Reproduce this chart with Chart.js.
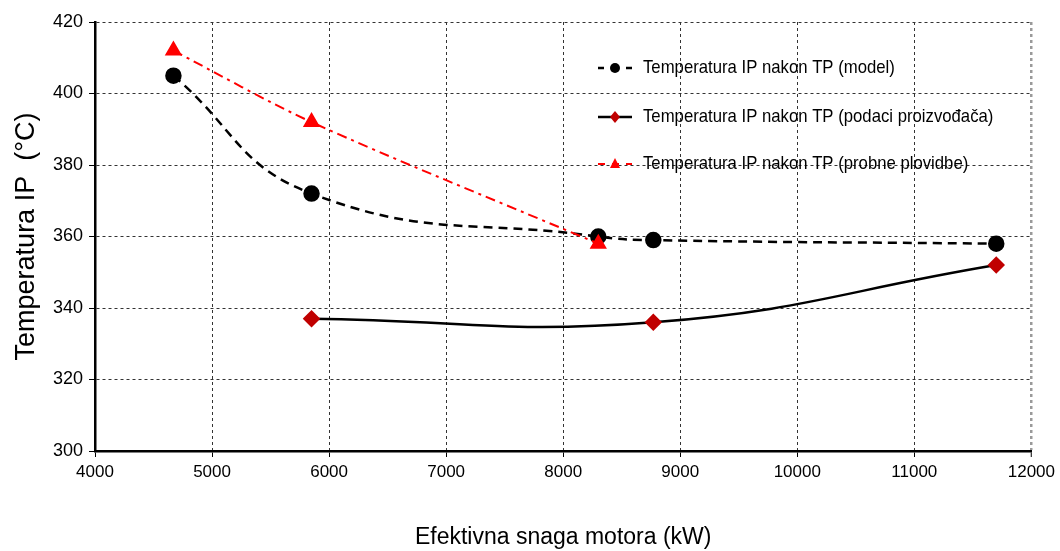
<!DOCTYPE html>
<html>
<head>
<meta charset="utf-8">
<script src="https://cdn.jsdelivr.net/npm/chart.js@4.4.1/dist/chart.umd.min.js"></script>
<style>
  html, body { margin: 0; padding: 0; background: #fff; }
  #wrap { width: 1060px; height: 551px; position: relative; }
</style>
</head>
<body>
<div id="wrap"><canvas id="chart"></canvas></div>
<script>
// snaga motora (kW) i temperature (°C)
var modelPower = [4670, 5850, 8300, 8770, 11700];
var modelTemp = [405, 372, 360, 359, 358];
var makerPower = [5850, 8770, 11700];
var makerTemp = [337, 336, 352];
var trialPower = [4670, 5850, 8300];
var trialTemp = [412, 392, 358];
var seriesNames = [
    'Temperatura IP nakon TP (model)',
    'Temperatura IP nakon TP (podaci proizvođača)',
    'Temperatura IP nakon TP (probne plovidbe)'
];
var xTitle = 'Efektivna snaga motora (kW)';
var yTitle = 'Temperatura IP  (°C)';

var FONT = "'Liberation Sans Narrow', 'Arial Narrow', 'Liberation Sans', Arial, sans-serif";

function toPoints(xs, ys) {
    var pts = [];
    for (var i = 0; i < xs.length; i++) pts.push({ x: xs[i], y: ys[i] });
    return pts;
}

// legenda unutar grafa, desno gore
var insideLegend = {
    id: 'insideLegend',
    afterDraw: function(chart) {
        var ctx = chart.ctx;
        var rows = [68, 117, 164];
        var x0 = 598, x1 = 632, mx = 615, tx = 643;
        ctx.save();
        for (var i = 0; i < chart.data.datasets.length; i++) {
            var ds = chart.data.datasets[i];
            var y = rows[i];
            ctx.strokeStyle = ds.borderColor;
            ctx.lineWidth = ds.borderWidth;
            ctx.setLineDash(ds.legendDash || []);
            ctx.beginPath();
            ctx.moveTo(x0, y);
            ctx.lineTo(x1, y);
            ctx.stroke();
            ctx.setLineDash([]);
            ctx.fillStyle = ds.pointBackgroundColor;
            ctx.beginPath();
            if (ds.pointStyle === 'circle') {
                ctx.arc(mx, y, 5, 0, Math.PI * 2);
            } else if (ds.pointStyle === 'rectRot') {
                ctx.moveTo(mx, y - 6); ctx.lineTo(mx + 5, y); ctx.lineTo(mx, y + 6); ctx.lineTo(mx - 5, y);
                ctx.closePath();
            } else {
                ctx.moveTo(mx, y - 6); ctx.lineTo(mx + 5, y + 4); ctx.lineTo(mx - 5, y + 4);
                ctx.closePath();
            }
            ctx.fill();
            // uski font: tekst malo stisnut vodoravno
            ctx.save();
            ctx.translate(tx, y);
            ctx.scale(0.88, 1);
            ctx.fillStyle = '#000';
            ctx.font = '19px ' + FONT;
            ctx.textBaseline = 'middle';
            ctx.textAlign = 'left';
            ctx.fillText(ds.label, 0, 0);
            ctx.restore();
        }
        ctx.restore();
    }
};

var ctx = document.getElementById('chart');
var chart = new Chart(ctx, {
    type: 'line',
    data: {
        datasets: [{
            label: seriesNames[0],
            data: toPoints(modelPower, modelTemp),
            borderColor: '#000',
            borderWidth: 2.5,
            borderDash: [9, 6],
            legendDash: [6, 8],
            tension: 0.45,
            pointStyle: 'circle',
            pointRadius: 7,
            pointBackgroundColor: '#000',
            pointBorderColor: '#000',
            order: 2
        }, {
            label: seriesNames[1],
            data: toPoints(makerPower, makerTemp),
            borderColor: '#000',
            borderWidth: 2.5,
            tension: 0.45,
            pointStyle: 'rectRot',
            pointRadius: 7,
            pointBackgroundColor: '#c00000',
            pointBorderColor: '#c00000',
            order: 1
        }, {
            label: seriesNames[2],
            data: toPoints(trialPower, trialTemp),
            borderColor: '#ff0000',
            borderWidth: 2,
            borderDash: [10, 5, 3, 5],
            legendDash: [7, 7],
            tension: 0.3,
            pointStyle: 'triangle',
            pointRadius: 8,
            pointBackgroundColor: '#ff0000',
            pointBorderColor: '#ff0000',
            order: 0
        }]
    },
    options: {
        responsive: true,
        maintainAspectRatio: false,
        animation: false,
        layout: { padding: { top: 22, right: 28, left: 10, bottom: 0 } },
        plugins: {
            legend: { display: false },
            tooltip: { enabled: false }
        },
        scales: {
            x: {
                type: 'linear',
                min: 4000,
                max: 12000,
                ticks: {
                    stepSize: 1000,
                    color: '#000',
                    font: { family: FONT, size: 17 },
                    padding: 5,
                    maxRotation: 0,
                    callback: function(v) { return String(v); }
                },
                grid: {
                    color: function(c) { return c.tick && c.tick.value === 12000 ? '#9a9a9a' : '#333'; },
                    lineWidth: function(c) { return c.tick && c.tick.value === 12000 ? 2.5 : 1; },
                    tickColor: '#000',
                    tickLength: 6,
                    tickWidth: 1
                },
                border: { color: '#000', width: 2.5, dash: [3, 3] },
                title: {
                    display: true,
                    text: xTitle,
                    color: '#000',
                    font: { family: FONT, size: 23 },
                    padding: { top: 32, bottom: 0 }
                },
                afterFit: function(axis) { axis.height = 100; }
            },
            y: {
                min: 300,
                max: 420,
                ticks: {
                    stepSize: 20,
                    color: '#000',
                    font: { family: FONT, size: 18 },
                    padding: 6,
                    callback: function(v) { return String(v); }
                },
                grid: {
                    color: '#333',
                    lineWidth: 1,
                    tickColor: '#000',
                    tickLength: 6,
                    tickWidth: 1
                },
                border: { color: '#000', width: 2.5, dash: [3, 3] },
                title: {
                    display: true,
                    text: yTitle,
                    color: '#000',
                    font: { family: FONT, size: 27 },
                    padding: { top: 0, bottom: 4 }
                },
                afterFit: function(axis) { axis.width = 85; }
            }
        }
    },
    plugins: [insideLegend]
});
</script>
</body>
</html>
